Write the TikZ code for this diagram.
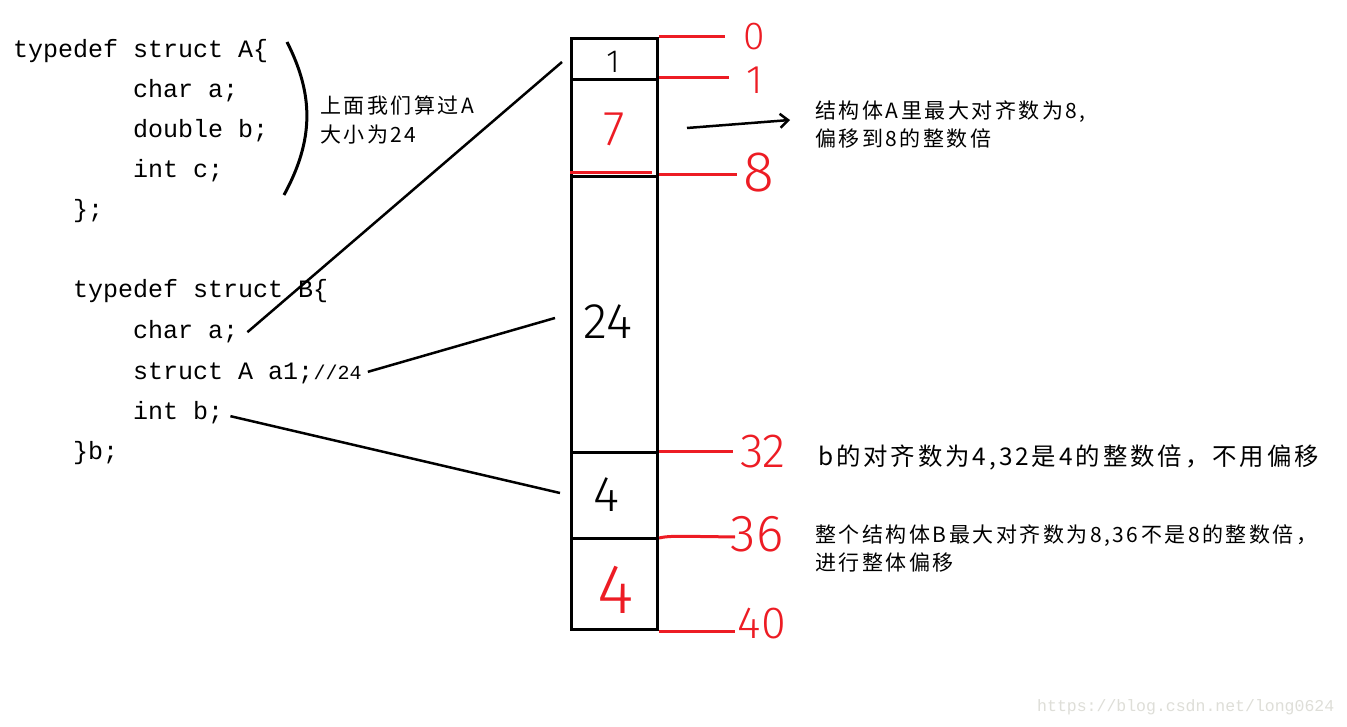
\documentclass[tikz,border=0pt]{standalone}
\usepackage{fontspec}
\setmainfont{Liberation Sans}
\newfontfamily\cjk[LetterSpace=12]{Noto Sans CJK SC}
\newfontfamily\codefont{Liberation Mono}
\newfontfamily\handfont{Fira Sans Light}
\usetikzlibrary{arrows.meta}
\definecolor{paintred}{RGB}{237,28,36}
\definecolor{wmark}{RGB}{222,222,216}
\begin{document}
\begin{tikzpicture}[x=1pt,y=-1pt,
  code/.style={font=\codefont\fontsize{25}{25}\selectfont, anchor=base west, inner sep=0pt, text=black},
  codesmall/.style={font=\codefont\fontsize{20}{20}\selectfont, anchor=base west, inner sep=0pt, text=black},
  note/.style={font=\cjk\fontsize{21}{28}\selectfont, anchor=base west, inner sep=0pt},
  bignote/.style={font=\cjk\fontsize{24.4}{30}\selectfont, anchor=base west, inner sep=0pt},
  cell/.style={draw, line width=3pt, minimum width=86pt, inner sep=0pt, anchor=north west},
  hand/.style={font=\handfont, inner sep=0pt},
  redtick/.style={draw=paintred, line width=3pt},
  link/.style={line width=2.5pt},
]
\useasboundingbox (0,0) rectangle (1347,727);
\fill[white] (0,0) rectangle (1347,727);

% code of struct A
\node[code] (a1) at (13,58) {typedef struct A\{};
\node[code] (a2) at (133,98) {char a;};
\node[code] (a3) at (133,138) {double b;};
\node[code] (a4) at (133,178) {int c;};
\node[code] (a5) at (73,218) {\};};

% code of struct B
\node[code] (b1) at (73,298) {typedef struct B\{};
\node[code] (b2) at (133,339) {char a;};
\node[code] (b3) at (133,379) {struct A a1;};
\node[codesmall] (b3c) at (b3.base east) {//24};
\node[code] (b4) at (133,419) {int b;};
\node[code] (b5) at (73,459) {\}b;};

% bracket and note on A
\draw[link, line width=3pt] (287,42) .. controls (314,95) and (314,140) .. (284,195);
\node[note] (na1) at (320,114) {上面我们算过A};
\node[note] (na2) at (320,143) {大小为24};

% memory cells
\node[cell, minimum height=41pt] (c1) at (570,37) {};
\node[cell, minimum height=97pt] (c2) at (570,78) {};
\node[cell, minimum height=276pt] (c3) at (570,175) {};
\node[cell, minimum height=86pt] (c4) at (570,451) {};
\node[cell, minimum height=91pt] (c5) at (570,537) {};

% cell contents
\node[hand, font=\handfont\fontsize{32}{32}\selectfont] (l1) at (613,62) {1};
\node[hand, text=paintred, font=\handfont\fontsize{49}{49}\selectfont] (l2) at (614,129) {7};
\node[hand, font=\handfont\fontsize{50}{50}\selectfont] (l3) at (608,322) {24};
\node[hand, font=\handfont\fontsize{50}{50}\selectfont] (l4) at (606,495) {4};
\node[hand, text=paintred, font=\handfont\fontsize{70}{70}\selectfont] (l5) at (616,590) {4};

% red offset ticks
\draw[redtick] (c1.north east) -- ++(66,0);
\draw[redtick] (c2.north east) -- ++(70,0);
\draw[redtick] (c3.north east) -- ++(78,0);
\draw[redtick] ([yshift=2pt]c3.north west) -- ++(82,0);
\draw[redtick] (c4.north east) -- ++(74,0);
\draw[redtick] ([yshift=-1pt]c5.north east) .. controls ++(10,-2) .. ++(76,-1);
\draw[redtick] (c5.south east) -- ++(76,0);

% red offsets
\node[hand, text=paintred, font=\handfont\fontsize{39}{39}\selectfont] (o0) at (754,37) {0};
\node[hand, text=paintred, font=\handfont\fontsize{40}{40}\selectfont] (o1) at (755,80) {1};
\node[hand, text=paintred, font=\handfont\fontsize{57}{57}\selectfont] (o8) at (759,173) {8};
\node[hand, text=paintred, font=\handfont\fontsize{48}{48}\selectfont] (o32) at (763,452) {32};
\node[hand, text=paintred, font=\handfont\fontsize{52}{52}\selectfont] (o36) at (757,534) {36};
\node[hand, text=paintred, font=\handfont\fontsize{45}{45}\selectfont] (o40) at (762,624) {40};

% connectors from code to cells
\coordinate (t1) at (562,62);
\coordinate (t2) at (555,318);
\coordinate (t3) at (560,493);
\draw[link] ([xshift=9pt]b2.east) -- (t1);
\draw[link] ([xshift=6pt]b3c.east) -- (t2);
\draw[link] ([xshift=7pt,yshift=-4pt]b4.east) -- (t3);

% arrow and notes
\coordinate (arrS) at (687,128);
\coordinate (arrE) at (790,120);
\draw[link, -{Straight Barb[length=8pt,width=14pt]}] (arrS) -- (arrE);
\node[note] (n1a) at (815,119) {结构体A里最大对齐数为8,};
\node[note] (n1b) at (815,147) {偏移到8的整数倍};
\node[bignote] (n2) at (818,465) {b的对齐数为4,32是4的整数倍，不用偏移};
\node[note] (n3a) at (815,542) {整个结构体B最大对齐数为8,36不是8的整数倍，};
\node[note] (n3b) at (815,570) {进行整体偏移};

% watermark
\node[anchor=base west, inner sep=0pt, text=wmark, font=\codefont\fontsize{16.5}{16.5}\selectfont] (wm) at (1037,711) {https://blog.csdn.net/long0624};
\end{tikzpicture}
\end{document}
